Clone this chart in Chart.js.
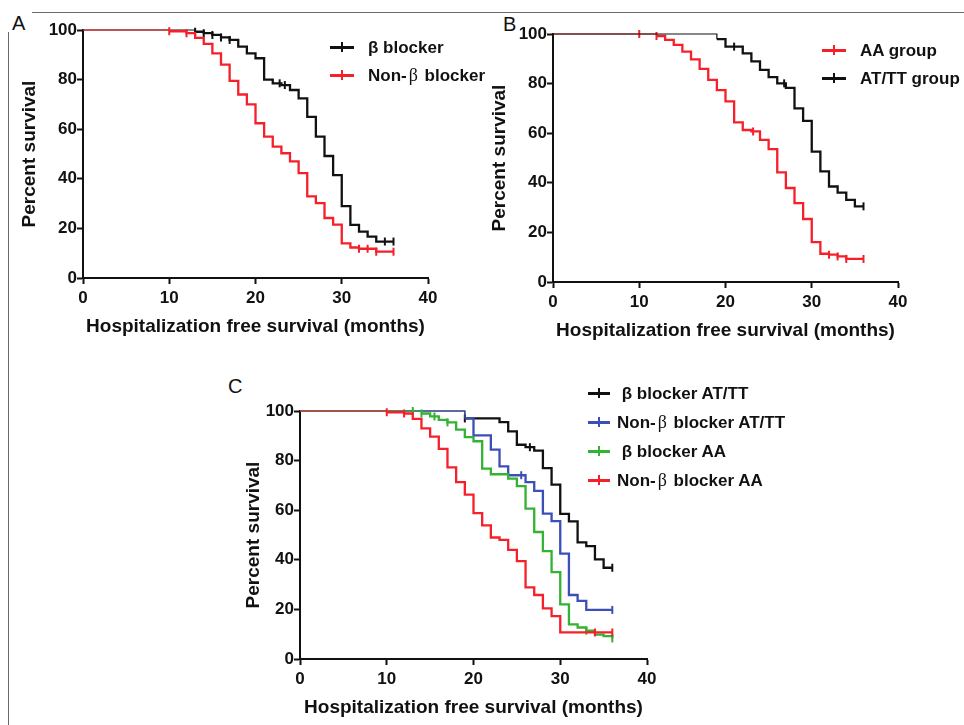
<!DOCTYPE html>
<html>
<head>
<meta charset="utf-8">
<script src="https://cdn.jsdelivr.net/npm/chart.js@4.4.1/dist/chart.umd.min.js"></script>
<style>
  body { margin: 0; background: #fff; }
  #page { position: relative; width: 964px; height: 725px; overflow: hidden; font-family: 'Liberation Sans', Arial, sans-serif; color: #111; }
  canvas { position: absolute; }
  .rule-h { position: absolute; left: 32px; top: 12px; width: 932px; height: 1px; background: #6a6a6a; }
  .rule-v { position: absolute; left: 8px; top: 32px; width: 1px; height: 693px; background: #6a6a6a; }
  .tag { position: absolute; font-size: 20px; line-height: 1; }
  .leg { position: absolute; height: 0; white-space: nowrap; }
  .leg .sym { position: absolute; left: 0; top: -1px; width: 24px; height: 2.5px; }
  .leg .sym::after { content: ''; position: absolute; left: 11px; top: -4px; width: 2px; height: 10px; background: inherit; }
  .legc .sym { width: 22px; }
  .legc .sym::after { left: 10px; }
  .leg .txt { position: absolute; top: 0; transform: translateY(-50%); font-weight: bold; font-size: 17px; line-height: 1; }
  .sb { font-family: 'Liberation Serif', 'DejaVu Serif', serif; font-weight: normal; font-size: 18px; padding: 0 2px 0 2px; }
</style>
</head>
<body>
<div id="page">
  <div class="rule-h"></div>
  <div class="rule-v"></div>
  <div class="tag" style="left:12px;top:13px">A</div>
  <div class="tag" style="left:503px;top:14px">B</div>
  <div class="tag" style="left:228px;top:376px">C</div>

  <canvas id="chartA" width="480" height="350" style="left:0;top:0"></canvas>
  <canvas id="chartB" width="484" height="350" style="left:480px;top:0"></canvas>
  <canvas id="chartC" width="500" height="355" style="left:220px;top:370px"></canvas>

  <div class="leg" style="left:330px;top:47px"><span class="sym" style="background:#111"></span><span class="txt" style="left:38px">β blocker</span></div>
  <div class="leg" style="left:330px;top:75px"><span class="sym" style="background:#f5202a"></span><span class="txt" style="left:38px">Non-<span class="sb">β</span> blocker</span></div>

  <div class="leg" style="left:822px;top:50px"><span class="sym" style="background:#f5202a"></span><span class="txt" style="left:38px">AA group</span></div>
  <div class="leg" style="left:822px;top:78px"><span class="sym" style="background:#111"></span><span class="txt" style="left:38px">AT/TT group</span></div>

  <div class="leg legc" style="left:588px;top:393px"><span class="sym" style="background:#111"></span><span class="txt" style="left:29px">&nbsp;β blocker AT/TT</span></div>
  <div class="leg legc" style="left:588px;top:422px"><span class="sym" style="background:#3c4fb8"></span><span class="txt" style="left:29px">Non-<span class="sb">β</span> blocker AT/TT</span></div>
  <div class="leg legc" style="left:588px;top:451px"><span class="sym" style="background:#33b233"></span><span class="txt" style="left:29px">&nbsp;β blocker AA</span></div>
  <div class="leg legc" style="left:588px;top:480px"><span class="sym" style="background:#f5202a"></span><span class="txt" style="left:29px">Non-<span class="sb">β</span> blocker AA</span></div>
</div>

<script>
// axis ticks
const xTicks = [0, 10, 20, 30, 40];
const yTicks = [0, 20, 40, 60, 80, 100];

// Panel A: β blocker vs non-β blocker
const aBetaTime = [0, 13, 14, 15, 16, 17, 18, 19, 20, 21, 22, 23, 24, 25, 26, 27, 28, 29, 30, 31, 32, 33, 34, 36];
const aBetaSurv = [100, 99.3, 98.7, 98, 97, 96, 93.3, 90.6, 88.6, 80, 78.5, 77.8, 75.8, 72.4, 65, 57, 49.2, 41.5, 29, 21.4, 18.7, 16.7, 14.7, 14.7];
const aBetaCens = [13, 14, 15, 16, 17, 22.8, 23.4, 35, 36];
const aNonTime = [0, 10, 12, 13, 14, 15, 16, 17, 18, 19, 20, 21, 22, 23, 24, 25, 26, 27, 28, 29, 30, 31, 32, 34, 36];
const aNonSurv = [100, 99.5, 98.7, 96.8, 94.4, 90.6, 86, 79.5, 74, 70, 62.4, 57, 53, 50.3, 47, 42.3, 32.9, 30.2, 24.2, 21.5, 14, 12.3, 11.8, 10.6, 10.6];
const aNonCens = [10, 12, 32, 33, 34, 36];

// Panel B: AA vs AT/TT
const bAaTime = [0, 12, 13, 14, 15, 16, 17, 18, 19, 20, 21, 22, 23, 24, 25, 26, 27, 28, 29, 30, 31, 32, 33, 34, 36];
const bAaSurv = [100, 99.2, 97.6, 95.6, 92.9, 89.8, 85.9, 81.5, 77.4, 72.8, 64.4, 61.3, 60.7, 57.3, 53.6, 44.2, 37.9, 31.8, 25.4, 16.1, 11.4, 11, 10.3, 9.3, 9.3];
const bAaCens = [10, 12, 23.2, 32, 33, 34, 36];
const bAtTime = [0, 19, 20, 22, 23, 24, 25, 26, 27, 28, 29, 30, 31, 32, 33, 34, 35, 36];
const bAtSurv = [100, 97.9, 94.9, 92.2, 89, 85.5, 82.6, 80.1, 78.3, 70, 65, 52.6, 44.6, 38.5, 36, 33.1, 30.5, 30.5];
const bAtCens = [21, 26.8, 36];

// Panel C: four groups
const cBatTime = [0, 19, 23, 24, 25, 26, 27, 28, 29, 30, 31, 32, 33, 34, 35, 36];
const cBatSurv = [100, 97, 95.5, 91.8, 86.4, 85.4, 84, 77, 70.3, 58.5, 55.5, 47, 45.5, 40.2, 36.8, 36.8];
const cBatCens = [19, 26.5, 36];
const cNatTime = [0, 19, 20, 22, 23, 24, 26, 27, 28, 29, 30, 31, 32, 33, 36];
const cNatSurv = [100, 97, 90.2, 84.4, 77.7, 74.1, 71.3, 67.8, 58.6, 55.6, 42.5, 25.8, 23.4, 19.8, 19.8];
const cNatCens = [25.5, 36];
const cBaaTime = [0, 14, 15, 16, 17, 18, 19, 20, 21, 22, 24, 25, 26, 27, 28, 29, 30, 31, 32, 33, 34, 35, 36];
const cBaaSurv = [100, 99, 97.8, 96.4, 95.4, 92.5, 89.5, 87.8, 76.8, 74.5, 72.7, 69.7, 60.6, 51.2, 43.5, 35, 22, 14, 12.7, 11.4, 9.8, 9.2, 8.3];
const cBaaCens = [13, 14, 15.5, 17, 33, 36];
const cNaaTime = [0, 10, 12, 13, 14, 15, 16, 17, 18, 19, 20, 21, 22, 23, 24, 25, 26, 27, 28, 29, 30, 36];
const cNaaSurv = [100, 99.5, 99, 96.8, 93, 89.7, 84.7, 77.3, 71.3, 66.3, 58.8, 53.9, 49, 48, 44, 39.5, 28.9, 25.8, 20.4, 17.3, 10.7, 10.7];
const cNaaCens = [10, 12, 34, 36];

const RED = '#f5202a', BLACK = '#111', BLUE = '#3c4fb8', GREEN = '#33b233';
const FONT = "'Liberation Sans', Arial, sans-serif";

function pts(t, s) { return t.map((x, i) => ({ x: x, y: s[i] })); }
function survAt(t, s, x) {
  let v = s[0];
  for (let i = 0; i < t.length; i++) if (t[i] <= x) v = s[i];
  return v;
}

// KM curve + censor ticks
function km(t, s, cens, color) {
  return [
    {
      type: 'line', data: pts(t, s), stepped: 'before', borderColor: color, borderWidth: 2.3,
      pointRadius: 0, fill: false, clip: false,
      segment: { borderWidth: c => (c.p0.parsed.y === 100 ? 1.2 : 2.3) }
    },
    {
      type: 'scatter', data: cens.map(x => ({ x: x, y: survAt(t, s, x) })), showLine: false,
      pointStyle: 'line', rotation: 90, pointRadius: 4, borderColor: color, borderWidth: 2, clip: false
    }
  ];
}

function makeChart(id, pad, titlePad, datasets) {
  new Chart(document.getElementById(id), {
    type: 'line',
    data: { datasets: datasets },
    options: {
      responsive: false,
      animation: false,
      devicePixelRatio: 1,
      events: [],
      layout: { padding: pad },
      plugins: { legend: { display: false }, tooltip: { enabled: false } },
      scales: {
        x: {
          type: 'linear', min: 0, max: 40,
          afterBuildTicks: a => { a.ticks = xTicks.map(v => ({ value: v })); },
          afterFit: a => { a.height = 60; },
          ticks: { color: '#111', padding: 4, font: { family: FONT, size: 17, weight: 'bold' } },
          grid: { drawOnChartArea: false, drawTicks: true, tickLength: 6, tickWidth: 2, color: '#111' },
          border: { display: true, color: '#111', width: 2 },
          title: { display: true, text: 'Hospitalization free survival (months)', color: '#111',
                   padding: { top: 0, bottom: 0 }, font: { family: FONT, size: 19, weight: 'bold' } }
        },
        y: {
          min: 0, max: 100,
          afterBuildTicks: a => { a.ticks = yTicks.map(v => ({ value: v })); },
          afterFit: a => { a.width = 70; },
          ticks: { color: '#111', padding: 0, font: { family: FONT, size: 17, weight: 'bold' } },
          grid: { drawOnChartArea: false, drawTicks: true, tickLength: 6, tickWidth: 2, color: '#111' },
          border: { display: true, color: '#111', width: 2 },
          title: { display: true, text: 'Percent survival', color: '#111',
                   padding: { top: titlePad, bottom: 0 }, font: { family: FONT, size: 19, weight: 'bold' } }
        }
      }
    }
  });
}

makeChart('chartA', { left: 13, top: 30, right: 52, bottom: 12 }, 5,
  [].concat(km(aNonTime, aNonSurv, aNonCens, RED), km(aBetaTime, aBetaSurv, aBetaCens, BLACK)));

makeChart('chartB', { left: 3, top: 34, right: 66, bottom: 8 }, 5,
  [].concat(km(bAtTime, bAtSurv, bAtCens, BLACK), km(bAaTime, bAaSurv, bAaCens, RED)));

makeChart('chartC', { left: 10, top: 41, right: 73, bottom: 6 }, 12,
  [].concat(km(cNaaTime, cNaaSurv, cNaaCens, RED), km(cBaaTime, cBaaSurv, cBaaCens, GREEN),
            km(cNatTime, cNatSurv, cNatCens, BLUE), km(cBatTime, cBatSurv, cBatCens, BLACK)));
</script>
</body>
</html>
